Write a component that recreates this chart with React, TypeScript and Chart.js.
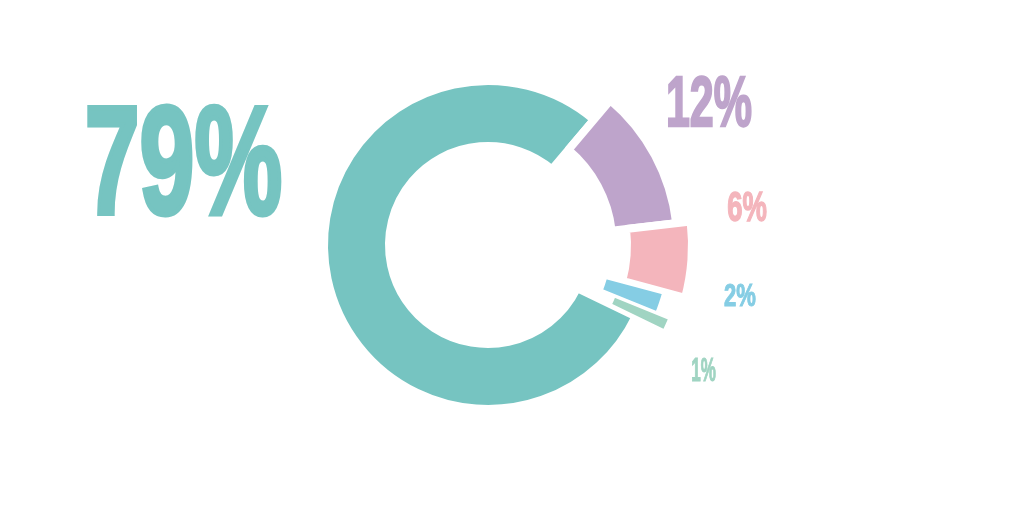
import React, { useEffect, useRef } from "react";
import { Chart, registerables } from "chart.js";

Chart.register(...registerables);

// ---- data ----
const categories = ["Segment A", "Segment B", "Segment C", "Segment D", "Segment E"];
const sharePercent = [79, 12, 6, 2, 1];
const percentLabels = sharePercent.map((v) => `${v}%`);

// ---- styles ----
const sliceColors = ["#76C4C1", "#BEA4CB", "#F4B5BC", "#85CDE4", "#A0D4C2"];
const ringShift = [0, 25.5, 40, 20.5, 34.5]; // radial push-out of each slice (px)
const gapWidth = [8, 8, 8, 5, 2]; // white separator stroke per slice
const ringOuter = 160;
const ringInner = 103;
const startRotation = 115.8;
const labelOffset: [number, number][] = [
  [-304.5, -28],
  [221, -118],
  [259, -23],
  [252, 62],
  [215.5, 137],
];
const labelCapHeight = [115, 53, 32, 24, 25];
const labelInkWidth = [197, 86, 40, 32, 25];

const ringShiftPlugin = {
  id: "ringShift",
  afterDatasetsUpdate(chart: any) {
    const meta = chart.getDatasetMeta(0);
    const ctrl = meta.controller as any;
    const bw0 = gapWidth[0];
    meta.data.forEach((el: any, i: number) => {
      el.outerRadius = ctrl.outerRadius - bw0 / 2 + ringShift[i] + gapWidth[i] / 2;
      el.innerRadius = ctrl.innerRadius + bw0 / 2 + ringShift[i] - gapWidth[i] / 2;
    });
  },
};

const labelPlugin = {
  id: "pctLabels",
  afterDatasetsDraw(chart: any) {
    const meta = chart.getDatasetMeta(0);
    const el = meta.data[0] as any;
    const cx = el.x;
    const cy = el.y;
    const ctx = chart.ctx as CanvasRenderingContext2D;
    ctx.save();
    ctx.textAlign = "center";
    ctx.textBaseline = "alphabetic";
    ctx.lineJoin = "miter";
    percentLabels.forEach((txt, i) => {
      const lw = Math.max(1, labelCapHeight[i] * 0.045);
      const size = (labelCapHeight[i] - lw) / 0.716;
      const maxW = (labelInkWidth[i] - lw) * 1.03;
      const x = cx + labelOffset[i][0];
      const y = cy + labelOffset[i][1] - lw / 2;
      ctx.font = `bold ${size}px "Liberation Sans Narrow", "Liberation Sans", Arial, sans-serif`;
      ctx.fillStyle = sliceColors[i];
      ctx.strokeStyle = sliceColors[i];
      ctx.lineWidth = lw;
      ctx.fillText(txt, x, y, maxW);
      ctx.strokeText(txt, x, y, maxW);
    });
    ctx.restore();
  },
};

export default function App() {
  const canvasRef = useRef<HTMLCanvasElement | null>(null);

  useEffect(() => {
    if (!canvasRef.current) return;
    const bw0 = gapWidth[0];
    const chart = new Chart(canvasRef.current, {
      type: "doughnut",
      data: {
        labels: categories,
        datasets: [
          {
            data: sharePercent,
            backgroundColor: sliceColors,
            borderColor: "#ffffff",
            borderWidth: gapWidth,
          },
        ],
      },
      options: {
        responsive: false,
        maintainAspectRatio: false,
        animation: false,
        events: [],
        rotation: startRotation,
        radius: ringOuter + bw0 / 2,
        cutout: `${((ringInner - bw0 / 2) / (ringOuter + bw0 / 2)) * 100}%`,
        layout: { padding: { left: 0, right: 48, top: 0, bottom: 33 } },
        plugins: {
          legend: { display: false },
          tooltip: { enabled: false },
        },
      },
      plugins: [ringShiftPlugin, labelPlugin],
    });
    return () => chart.destroy();
  }, []);

  return (
    <div style={{ position: "fixed", left: 0, top: 0, width: 1024, height: 523, background: "#ffffff" }}>
      <canvas ref={canvasRef} width={1024} height={523} style={{ display: "block" }} />
    </div>
  );
}
